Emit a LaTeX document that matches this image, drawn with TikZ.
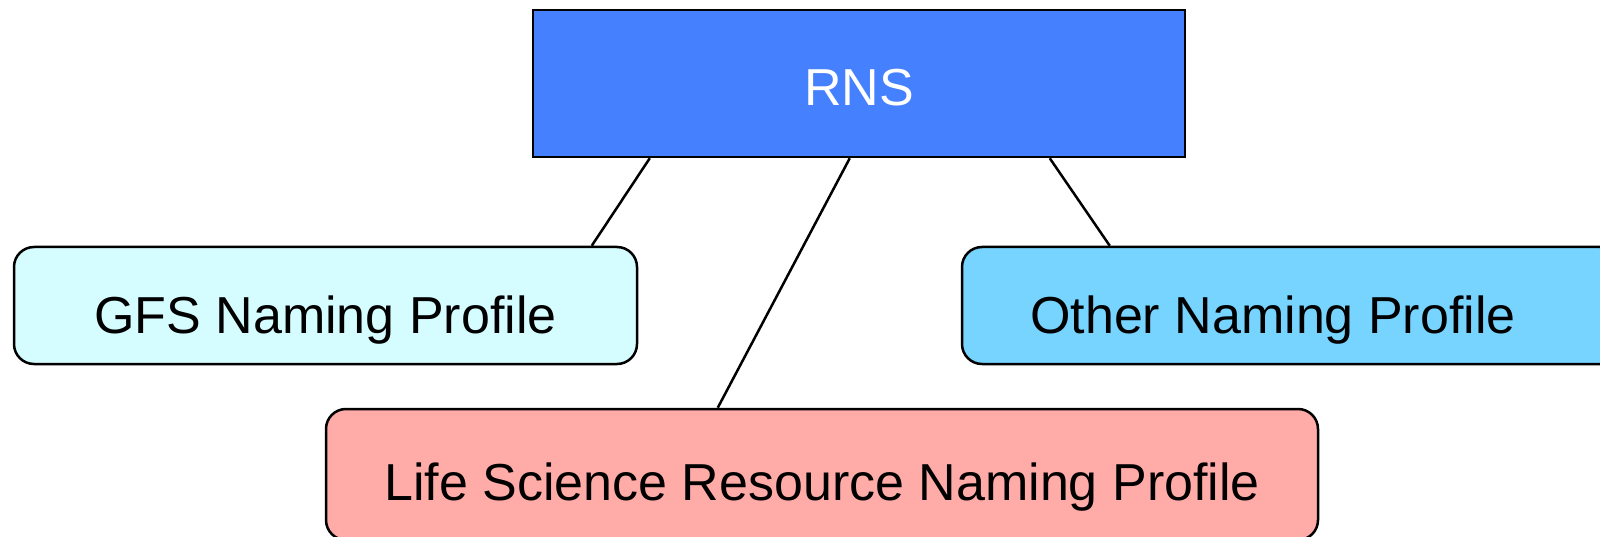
\documentclass[tikz,border=0pt]{standalone}
\usepackage{fontspec}
\setmainfont{Liberation Sans}
\definecolor{rnsblue}{HTML}{4580FF}
\definecolor{gfscyan}{HTML}{D5FCFF}
\definecolor{othercyan}{HTML}{77D4FF}
\definecolor{lifepink}{HTML}{FFABA8}
\begin{document}
\begin{tikzpicture}[x=1pt,y=1pt,
  box/.style={draw=black, line width=2.5pt, inner sep=0pt, text depth=0pt, font=\fontsize{52}{62}\selectfont},
  profile/.style={box, rounded corners=20pt, minimum height=117pt, text height=55pt},
  link/.style={draw=black, line width=2.5pt}]
\useasboundingbox (0,0) rectangle (1600,536);
\clip (0,0) rectangle (1600,536);
\node[box, fill=rnsblue, text=white, text height=45pt, minimum width=652pt, minimum height=147pt] (rns) at (859,452.5) {RNS};
\node[profile, fill=gfscyan, minimum width=623pt] (gfs) at (325.5,230.5) {GFS Naming Profile};
\node[profile, fill=othercyan, minimum width=658pt] (other) at (1291,230.5) {Other Naming Profile\hspace*{36pt}};
\node[box, rounded corners=20pt, fill=lifepink, text height=52pt, minimum width=992pt, minimum height=131pt] (life) at (822,61.5) {Life Science Resource Naming Profile};
\draw[link] ([xshift=118pt]rns.south west) -- ([xshift=579pt]gfs.north west);
\draw[link] ([xshift=318pt]rns.south west) -- ([xshift=393pt]life.north west);
\draw[link] ([xshift=518pt]rns.south west) -- ([xshift=149pt]other.north west);
\end{tikzpicture}
\end{document}
